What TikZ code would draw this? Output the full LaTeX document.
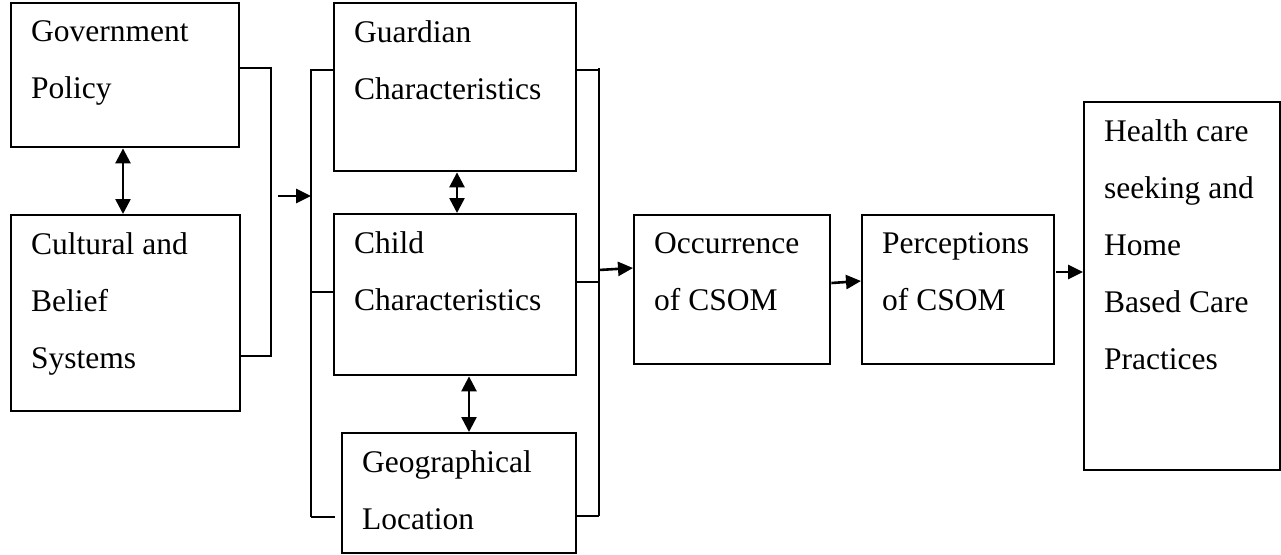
\documentclass[tikz,border=0pt]{standalone}
\usepackage{fontspec}
\setmainfont{Liberation Serif}
\usetikzlibrary{arrows.meta,calc}
\begin{document}
\begin{tikzpicture}[x=1pt,y=-1pt,
  box/.style={draw,line width=2.4pt,anchor=north west,inner sep=0pt},
  words/.style={anchor=north west,inner sep=0pt,align=left,font=\fontsize{31.5}{57}\selectfont},
  link/.style={line width=2.6pt,-{Triangle[length=15pt,width=14pt]}},
  both/.style={line width=2.6pt,{Triangle[length=15pt,width=15pt]}-{Triangle[length=15pt,width=15pt]}},
  brace/.style={line width=2.4pt}]
\useasboundingbox (0,0) rectangle (1281,554);

% boxes
\node[box,minimum width=228pt,minimum height=144pt] (gov) at (10,2) {};
\node[box,minimum width=229pt,minimum height=196pt] (cult) at (10,214) {};
\node[box,minimum width=242pt,minimum height=168pt] (guard) at (333,2) {};
\node[box,minimum width=242pt,minimum height=161pt] (child) at (333,213) {};
\node[box,minimum width=234pt,minimum height=120pt] (geo) at (341,432) {};
\node[box,minimum width=196pt,minimum height=149pt] (occ) at (633,214) {};
\node[box,minimum width=192pt,minimum height=149pt] (perc) at (861,214) {};
\node[box,minimum width=196pt,minimum height=368pt] (care) at (1083,101) {};

% box texts
\node[words] (govtxt) at ($(gov.north west)+(21,18)$) {Government\\Policy};
\node[words] (culttxt) at ($(cult.north west)+(21,18)$) {Cultural and\\Belief\\Systems};
\node[words] (guardtxt) at ($(guard.north west)+(21,18)$) {Guardian\\Characteristics};
\node[words] (childtxt) at ($(child.north west)+(21,18)$) {Child\\Characteristics};
\node[words] (geotxt) at ($(geo.north west)+(21,18)$) {Geographical\\Location};
\node[words] (occtxt) at ($(occ.north west)+(21,18)$) {Occurrence\\of CSOM};
\node[words] (perctxt) at ($(perc.north west)+(21,18)$) {Perceptions\\of CSOM};
\node[words] (caretxt) at ($(care.north west)+(21,18)$) {Health care\\seeking and\\Home\\Based Care\\Practices};

% bracket joining the two context boxes
\coordinate (lbt) at (271,68);
\coordinate (lbb) at (271,356);
\draw[brace] ($(gov.north east)+(0,66)$) -- (lbt) -- (lbb) -- ($(cult.north east)+(0,142)$);

% bracket round the three characteristic boxes (left side)
\coordinate (mlt) at (311,69);
\coordinate (mlb) at (311,517);
\draw[brace] (mlt) -- (mlb);
\draw[brace] (311,70) -- ($(guard.north west)+(2,68)$);
\draw[brace] (311,292) -- ($(child.north west)+(2,79)$);
\draw[brace] (311,517) -- (335,517);

% bracket round the three characteristic boxes (right side)
\coordinate (mrt) at (599,68);
\coordinate (mrb) at (599,516);
\draw[brace] (mrt) -- (mrb);
\draw[brace] ($(guard.north east)+(0,68)$) -- (599,70);
\draw[brace] ($(child.north east)+(0,69)$) -- (599,282);
\draw[brace] ($(geo.north east)+(0,84)$) -- (599,516);

% arrows
\coordinate (a1) at (278,196);
\draw[link] (a1) -- (mlt |- a1);
\coordinate (a2) at (599,270);
\draw[link] (a2) -- ($(occ.north west)+(0,54)$);
\draw[link] ($(occ.north east)+(0,69)$) -- ($(perc.north west)+(0,67)$);
\coordinate (a4) at (1056,272);
\draw[link] (a4) -- (care.west |- a4);

% two-way links
\draw[both] ($(gov.south west)+(113,0)$) -- ($(cult.north west)+(113,0)$);
\draw[both] ($(guard.south west)+(124,0)$) -- ($(child.north west)+(124,0)$);
\draw[both] ($(child.south west)+(136,0)$) -- ($(geo.north west)+(128,0)$);
\end{tikzpicture}
\end{document}
